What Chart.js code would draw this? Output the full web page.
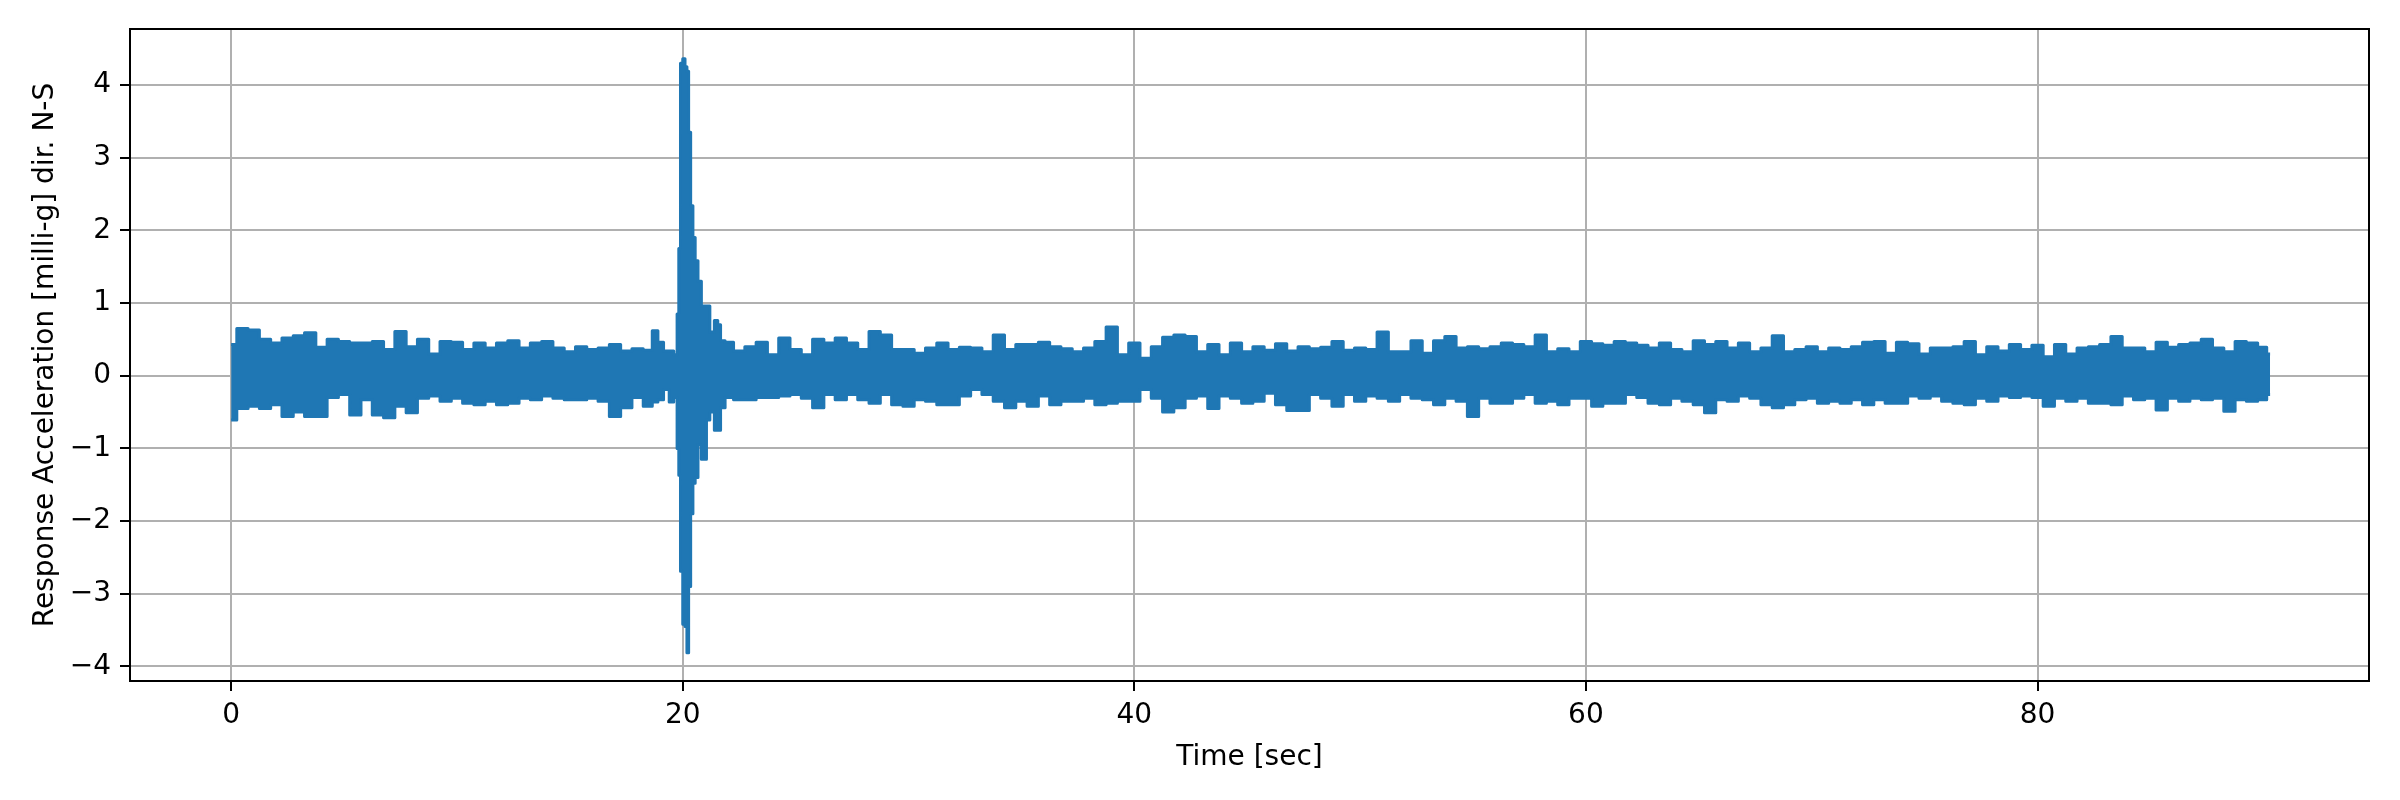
<!DOCTYPE html>
<html>
<head>
<meta charset="utf-8">
<script src="https://cdn.jsdelivr.net/npm/chart.js@4.4.1/dist/chart.umd.min.js"></script>
<style>
  body { margin: 0; background: #fff; }
  canvas { display: block; }
</style>
</head>
<body>
<canvas id="grafico" width="2400" height="800"></canvas>
<script>
// time samples [sec] (finer around the event at ~20 s)
var timeSec = [
  0, 0.5, 1, 1.5, 2, 2.5, 3, 3.5, 4, 4.5,
  5, 5.5, 6, 6.5, 7, 7.5, 8, 8.5, 9, 9.5,
  10, 10.5, 11, 11.5, 12, 12.5, 13, 13.5, 14, 14.5,
  15, 15.5, 16, 16.5, 17, 17.5, 18, 18.5, 18.8, 19, 19.3,
  19.5, 19.7, 19.8, 19.85, 19.95, 20.05, 20.15, 20.22, 20.3, 20.4,
  20.5, 20.6, 20.75, 20.9, 21.0, 21.1, 21.3, 21.5, 21.6, 21.75, 22.0,
  22.5, 23, 23.5, 24, 24.5, 25, 25.5, 26, 26.5, 27,
  27.5, 28, 28.5, 29, 29.5, 30, 30.5, 31, 31.5, 32,
  32.5, 33, 33.5, 34, 34.5, 35, 35.5, 36, 36.5, 37,
  37.5, 38, 38.5, 39, 39.5, 40, 40.5, 41, 41.5, 42,
  42.5, 43, 43.5, 44, 44.5, 45, 45.5, 46, 46.5, 47,
  47.5, 48, 48.5, 49, 49.5, 50, 50.5, 51, 51.5, 52,
  52.5, 53, 53.5, 54, 54.5, 55, 55.5, 56, 56.5, 57,
  57.5, 58, 58.5, 59, 59.5, 60, 60.5, 61, 61.5, 62,
  62.5, 63, 63.5, 64, 64.5, 65, 65.5, 66, 66.5, 67,
  67.5, 68, 68.5, 69, 69.5, 70, 70.5, 71, 71.5, 72,
  72.5, 73, 73.5, 74, 74.5, 75, 75.5, 76, 76.5, 77,
  77.5, 78, 78.5, 79, 79.5, 80, 80.5, 81, 81.5, 82,
  82.5, 83, 83.5, 84, 84.5, 85, 85.5, 86, 86.5, 87,
  87.5, 88, 88.5, 89, 89.5, 90, 90.3
];

// upper envelope of the trace [milli-g]
var upperMilliG = [
  0.43, 0.65, 0.63, 0.50, 0.45, 0.52, 0.55, 0.59, 0.39, 0.50,
  0.47, 0.45, 0.45, 0.47, 0.36, 0.61, 0.40, 0.50, 0.30, 0.47,
  0.46, 0.36, 0.45, 0.38, 0.45, 0.48, 0.38, 0.45, 0.47, 0.38,
  0.33, 0.40, 0.36, 0.38, 0.43, 0.34, 0.37, 0.35, 0.62, 0.46, 0.34,
  0.34, 0.29, 0.85, 1.75, 4.30, 4.36, 4.25, 4.19, 3.35, 2.34,
  1.90, 1.58, 1.30, 0.96, 0.96, 0.96, 0.60, 0.76, 0.70, 0.48, 0.46,
  0.34, 0.40, 0.46, 0.29, 0.52, 0.36, 0.29, 0.50, 0.45, 0.52,
  0.45, 0.36, 0.61, 0.56, 0.36, 0.36, 0.31, 0.38, 0.45, 0.36,
  0.39, 0.38, 0.33, 0.56, 0.36, 0.43, 0.43, 0.46, 0.40, 0.37,
  0.33, 0.38, 0.47, 0.67, 0.29, 0.45, 0.24, 0.40, 0.53, 0.56,
  0.54, 0.33, 0.43, 0.29, 0.45, 0.33, 0.40, 0.35, 0.44, 0.34,
  0.40, 0.37, 0.39, 0.47, 0.35, 0.38, 0.36, 0.60, 0.33, 0.33,
  0.48, 0.31, 0.48, 0.54, 0.38, 0.40, 0.37, 0.40, 0.45, 0.43,
  0.40, 0.56, 0.33, 0.37, 0.33, 0.47, 0.44, 0.42, 0.47, 0.45,
  0.42, 0.38, 0.45, 0.36, 0.33, 0.48, 0.43, 0.47, 0.38, 0.45,
  0.33, 0.38, 0.55, 0.33, 0.36, 0.40, 0.33, 0.38, 0.36, 0.40,
  0.46, 0.47, 0.31, 0.46, 0.44, 0.30, 0.38, 0.38, 0.40, 0.47,
  0.29, 0.40, 0.34, 0.43, 0.36, 0.42, 0.26, 0.43, 0.30, 0.38,
  0.40, 0.43, 0.54, 0.38, 0.38, 0.33, 0.46, 0.39, 0.43, 0.45,
  0.50, 0.38, 0.33, 0.47, 0.45, 0.39, 0.30
];

// lower envelope of the trace [milli-g]
var lowerMilliG = [
  -0.61, -0.45, -0.42, -0.45, -0.40, -0.56, -0.50, -0.56, -0.56, -0.30,
  -0.26, -0.54, -0.33, -0.54, -0.58, -0.42, -0.51, -0.31, -0.28, -0.35,
  -0.31, -0.38, -0.40, -0.35, -0.40, -0.38, -0.31, -0.33, -0.28, -0.31,
  -0.33, -0.33, -0.31, -0.35, -0.56, -0.44, -0.30, -0.42, -0.36, -0.33, -0.19,
  -0.36, -0.30, -1.00, -1.37, -2.69, -3.42, -3.45, -3.81, -2.90, -1.90,
  -1.48, -1.40, -0.95, -1.15, -1.15, -0.61, -0.50, -0.75, -0.75, -0.44, -0.30,
  -0.33, -0.33, -0.30, -0.30, -0.28, -0.26, -0.31, -0.44, -0.26, -0.33,
  -0.26, -0.33, -0.38, -0.26, -0.40, -0.42, -0.33, -0.35, -0.40, -0.40,
  -0.28, -0.19, -0.26, -0.35, -0.44, -0.35, -0.42, -0.28, -0.40, -0.35,
  -0.35, -0.31, -0.40, -0.38, -0.35, -0.35, -0.19, -0.31, -0.50, -0.44,
  -0.31, -0.28, -0.45, -0.28, -0.31, -0.38, -0.35, -0.24, -0.40, -0.48,
  -0.48, -0.26, -0.31, -0.42, -0.26, -0.35, -0.28, -0.31, -0.35, -0.26,
  -0.31, -0.33, -0.40, -0.31, -0.35, -0.56, -0.31, -0.38, -0.38, -0.31,
  -0.26, -0.38, -0.35, -0.40, -0.31, -0.31, -0.42, -0.38, -0.38, -0.26,
  -0.30, -0.38, -0.40, -0.31, -0.35, -0.40, -0.51, -0.33, -0.35, -0.28,
  -0.31, -0.40, -0.44, -0.40, -0.33, -0.31, -0.38, -0.35, -0.38, -0.33,
  -0.40, -0.33, -0.38, -0.38, -0.28, -0.31, -0.28, -0.35, -0.38, -0.40,
  -0.31, -0.35, -0.28, -0.30, -0.28, -0.30, -0.42, -0.31, -0.35, -0.31,
  -0.38, -0.38, -0.40, -0.28, -0.33, -0.31, -0.47, -0.31, -0.35, -0.31,
  -0.33, -0.31, -0.49, -0.33, -0.35, -0.33, -0.26
];

var xTicks = [0, 20, 40, 60, 80];
var yTicks = [-4, -3, -2, -1, 0, 1, 2, 3, 4];

var azul = '#1f77b4';
var fonte = { family: 'DejaVu Sans', size: 28 };

function pontos(valores) {
    return timeSec.map(function (t, i) { return { x: t, y: valores[i] }; });
}

// moldura (spines de cima e da direita)
var moldura = {
    id: 'moldura',
    afterDatasetsDraw: function (chart) {
        var a = chart.chartArea, c = chart.ctx;
        c.save();
        c.strokeStyle = '#000';
        c.lineWidth = 2;
        c.strokeRect(a.left, a.top, a.right - a.left, a.bottom - a.top);
        c.restore();
    }
};

var ctx = document.querySelector('#grafico');
var grafico = new Chart(ctx, {
    type: 'line',
    data: {
        datasets: [{
            data: pontos(upperMilliG),
            borderColor: azul,
            borderWidth: 3,
            borderJoinStyle: 'round',
            pointRadius: 0,
            stepped: 'middle',
            fill: false
        }, {
            data: pontos(lowerMilliG),
            borderColor: azul,
            backgroundColor: azul,
            borderWidth: 3,
            borderJoinStyle: 'round',
            pointRadius: 0,
            stepped: 'middle',
            fill: '-1'
        }]
    },
    options: {
        responsive: false,
        animation: false,
        devicePixelRatio: 1,
        layout: { padding: { top: 29, right: 31, left: 0, bottom: 0 } },
        plugins: { legend: { display: false }, tooltip: { enabled: false } },
        scales: {
            x: {
                type: 'linear',
                min: -4.48,
                max: 94.68,
                afterBuildTicks: function (s) { s.ticks = xTicks.map(function (v) { return { value: v }; }); },
                afterFit: function (s) { s.height = 119; },
                grid: { color: '#b0b0b0', lineWidth: 2, tickColor: '#000', tickLength: 10, tickWidth: 2 },
                border: { color: '#000', width: 2 },
                ticks: { color: '#000', font: fonte, padding: 8, maxRotation: 0 },
                title: { display: true, text: 'Time [sec]', color: '#000', font: fonte, padding: { top: 0, bottom: 25 } }
            },
            y: {
                min: -4.2,
                max: 4.77,
                afterBuildTicks: function (s) { s.ticks = yTicks.map(function (v) { return { value: v }; }); },
                afterFit: function (s) { s.width = 130; },
                grid: { color: '#b0b0b0', lineWidth: 2, tickColor: '#000', tickLength: 10, tickWidth: 2 },
                border: { color: '#000', width: 2 },
                ticks: {
                    color: '#000', font: fonte, padding: 9,
                    callback: function (v) { return v < 0 ? '\u2212' + Math.abs(v) : String(v); }
                },
                title: { display: true, text: 'Response Acceleration [milli-g] dir. N-S', color: '#000', font: fonte, padding: { top: 29, bottom: 0 } }
            }
        }
    },
    plugins: [moldura]
});
</script>
</body>
</html>
